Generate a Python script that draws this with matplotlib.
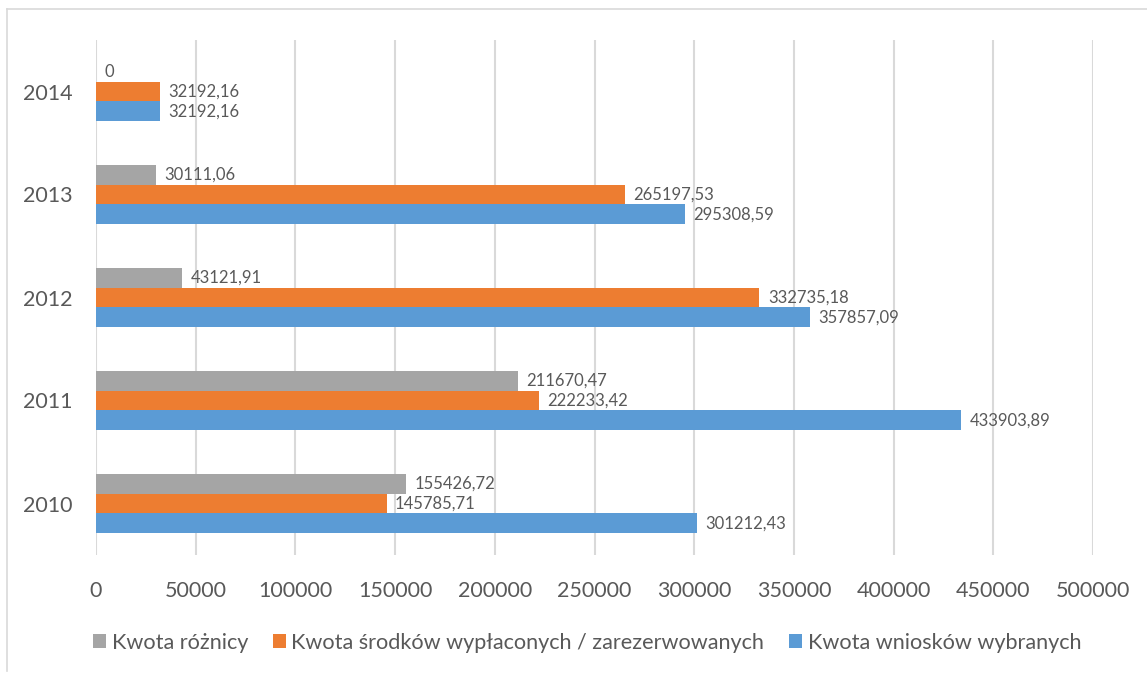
import matplotlib
matplotlib.use("Agg")
import matplotlib.pyplot as plt
from matplotlib.lines import Line2D
import numpy as np

years = ["2010", "2011", "2012", "2013", "2014"]
kwota_wnioskow = [301212.43, 433903.89, 357857.09, 295308.59, 32192.16]
kwota_srodkow = [145785.71, 222233.42, 332735.18, 265197.53, 32192.16]
kwota_roznicy = [155426.72, 211670.47, 43121.91, 30111.06, 0]

series_names = ["Kwota różnicy",
                "Kwota środków wypłaconych / zarezerwowanych",
                "Kwota wniosków wybranych"]
xticks = list(range(0, 500001, 50000))

plt.rcParams['font.family'] = ['Lato', 'DejaVu Sans']
text_col = '#595959'

fig = plt.figure(figsize=(11.47, 6.75), dpi=100)
ax = fig.add_axes([96 / 1147, 1 - 555 / 675, 997 / 1147, 515 / 675])

y = np.arange(len(years))
h = 0.194
series = [
    (kwota_roznicy, '#A5A5A5', h),
    (kwota_srodkow, '#ED7D31', 0),
    (kwota_wnioskow, '#5B9BD5', -h),
]


def fmt(v):
    if v == 0:
        return "0"
    return f"{v:.2f}".replace('.', ',')


for (vals, col, off), name in zip(series, series_names):
    ax.barh(y + off, vals, height=h, color=col, label=name, zorder=3)
    for yi, v in zip(y, vals):
        ax.annotate(fmt(v), (v, yi + off), textcoords="offset points",
                    xytext=(6, 0), ha='left', va='center',
                    fontsize=12, color=text_col, zorder=4)

ax.set_xlim(0, 500000)
ax.set_ylim(-0.5, 4.5)
ax.set_xticks(xticks)
ax.set_xticklabels([str(t) for t in xticks])
ax.set_yticks(y)
ax.set_yticklabels(years)
ax.tick_params(axis='x', length=0, pad=19, labelsize=15.5, labelcolor=text_col)
ax.tick_params(axis='y', length=0, pad=17, labelsize=15.5, labelcolor=text_col)
ax.grid(axis='x', color='#D9D9D9', linewidth=1.5, zorder=0)
for s in ax.spines.values():
    s.set_visible(False)

handles, labels = ax.get_legend_handles_labels()
leg = fig.legend(handles, labels, loc='center', ncol=3,
                 bbox_to_anchor=(0.512, 1 - 643 / 675), frameon=False,
                 fontsize=15.6, handlelength=0.6, handleheight=0.6,
                 handletextpad=0.25, columnspacing=1.15, labelcolor=text_col)

# chart border (only top and left visible in the reference)
fig.add_artist(Line2D([7 / 1147, 1], [1 - 9 / 675, 1 - 9 / 675],
                      color='#D9D9D9', linewidth=1.2))
fig.add_artist(Line2D([7 / 1147, 7 / 1147], [1 - 9 / 675, 1 - 671 / 675],
                      color='#D9D9D9', linewidth=1.2))

fig.savefig("out.png", dpi=100)
